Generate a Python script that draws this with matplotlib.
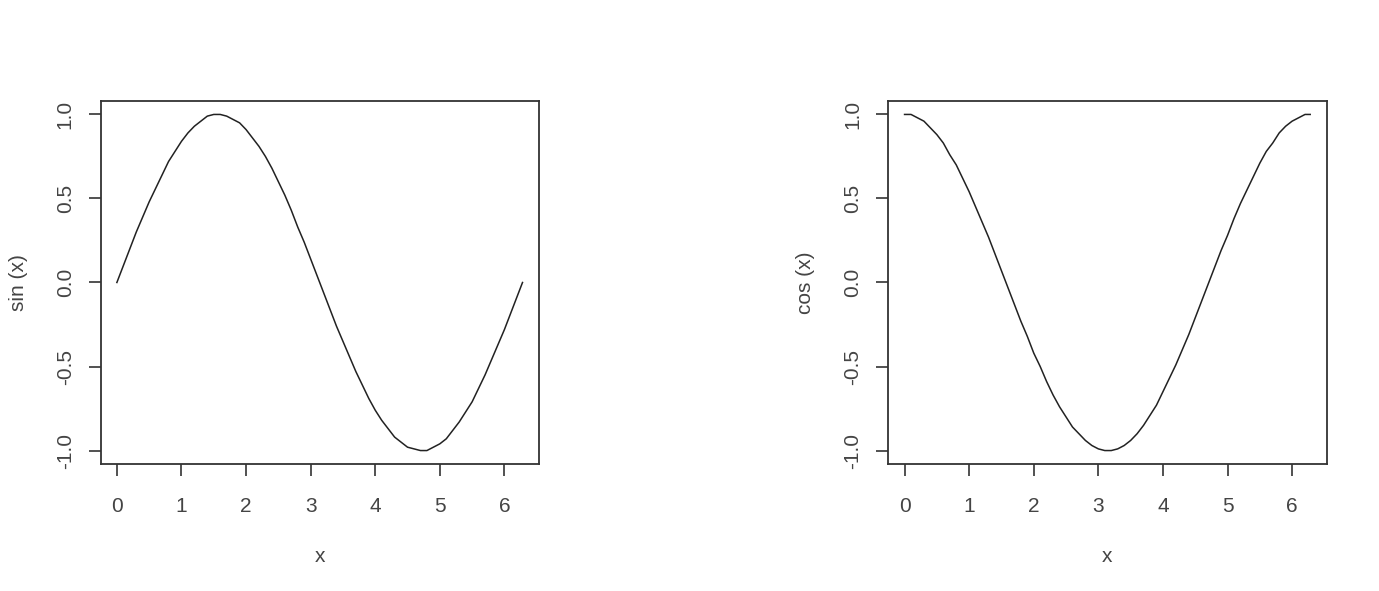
import matplotlib.pyplot as plt

# Values (x from 0 to 2*pi, step 0.1, last point at 2*pi)
x_vals = [0.0, 0.1, 0.2, 0.3, 0.4, 0.5, 0.6, 0.7, 0.8, 0.9,
          1.0, 1.1, 1.2, 1.3, 1.4, 1.5, 1.6, 1.7, 1.8, 1.9,
          2.0, 2.1, 2.2, 2.3, 2.4, 2.5, 2.6, 2.7, 2.8, 2.9,
          3.0, 3.1, 3.2, 3.3, 3.4, 3.5, 3.6, 3.7, 3.8, 3.9,
          4.0, 4.1, 4.2, 4.3, 4.4, 4.5, 4.6, 4.7, 4.8, 4.9,
          5.0, 5.1, 5.2, 5.3, 5.4, 5.5, 5.6, 5.7, 5.8, 5.9,
          6.0, 6.1, 6.2, 6.28]
sin_vals = [0.00, 0.10, 0.20, 0.30, 0.39, 0.48, 0.56, 0.64, 0.72, 0.78,
            0.84, 0.89, 0.93, 0.96, 0.99, 1.00, 1.00, 0.99, 0.97, 0.95,
            0.91, 0.86, 0.81, 0.75, 0.68, 0.60, 0.52, 0.43, 0.33, 0.24,
            0.14, 0.04, -0.06, -0.16, -0.26, -0.35, -0.44, -0.53, -0.61, -0.69,
            -0.76, -0.82, -0.87, -0.92, -0.95, -0.98, -0.99, -1.00, -1.00, -0.98,
            -0.96, -0.93, -0.88, -0.83, -0.77, -0.71, -0.63, -0.55, -0.46, -0.37,
            -0.28, -0.18, -0.08, 0.00]
cos_vals = [1.00, 1.00, 0.98, 0.96, 0.92, 0.88, 0.83, 0.76, 0.70, 0.62,
            0.54, 0.45, 0.36, 0.27, 0.17, 0.07, -0.03, -0.13, -0.23, -0.32,
            -0.42, -0.50, -0.59, -0.67, -0.74, -0.80, -0.86, -0.90, -0.94, -0.97,
            -0.99, -1.00, -1.00, -0.99, -0.97, -0.94, -0.90, -0.85, -0.79, -0.73,
            -0.65, -0.57, -0.49, -0.40, -0.31, -0.21, -0.11, -0.01, 0.09, 0.19,
            0.28, 0.38, 0.47, 0.55, 0.63, 0.71, 0.78, 0.83, 0.89, 0.93,
            0.96, 0.98, 1.00, 1.00]

x_ticks = [0, 1, 2, 3, 4, 5, 6]
y_ticks = [-1.0, -0.5, 0.0, 0.5, 1.0]
y_labels = ["-1.0", "-0.5", "0.0", "0.5", "1.0"]

plt.rcParams.update({"font.family": "Liberation Sans", "font.size": 15})
INK = "#333333"
TXT = "#444444"

fig = plt.figure(figsize=(13.79, 5.91), dpi=100)

panels = [
    (0.0730, sin_vals, "sin (x)"),
    (0.6442, cos_vals, "cos (x)"),
]

for left, yv, ylab in panels:
    ax = fig.add_axes([left, 0.2149, 0.3178, 0.6142])
    ax.plot(x_vals, yv, color="#222222", lw=1.1)

    # R style 4% padding
    ax.set_xlim(-0.251, 6.534)
    ax.set_ylim(-1.08, 1.08)

    ax.set_xticks(x_ticks)
    ax.set_xticklabels([str(t) for t in x_ticks])
    ax.set_yticks(y_ticks)
    ax.set_yticklabels(y_labels, rotation=90, va="center")

    ax.tick_params(axis="both", direction="out", length=8.6, width=1.2,
                   color=INK, labelcolor=TXT)
    ax.tick_params(axis="x", pad=15)
    ax.tick_params(axis="y", pad=10)

    for s in ax.spines.values():
        s.set_color(INK)
        s.set_linewidth(1.3)

    ax.text(0.5, -0.254, "x", transform=ax.transAxes, ha="center",
            va="center", color=TXT)
    ax.text(-0.188, 0.5, ylab, transform=ax.transAxes, ha="center",
            va="center", rotation=90, color=TXT)

plt.savefig("out.png", dpi=100)
